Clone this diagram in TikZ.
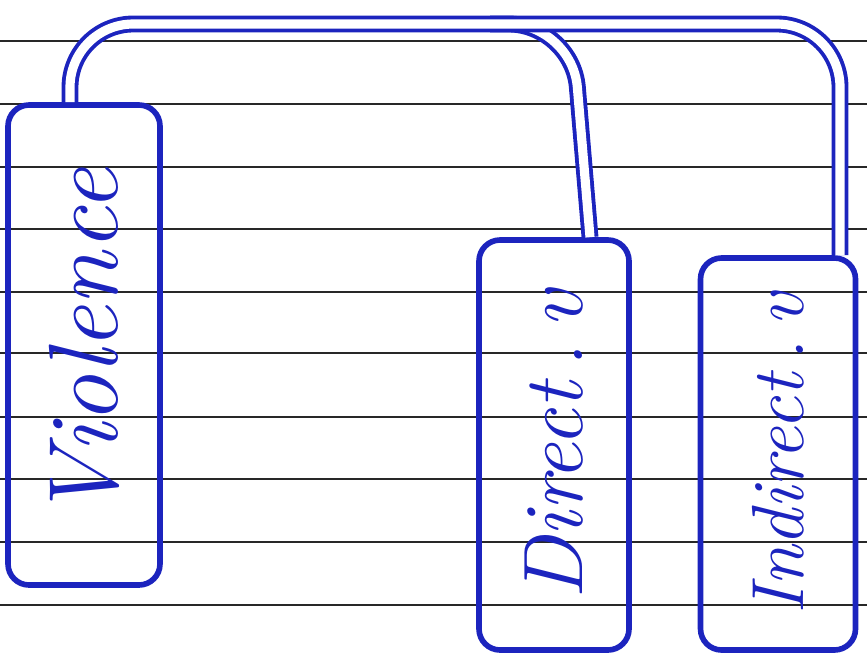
\documentclass[tikz,border=0pt]{standalone}
\usetikzlibrary{calc}
\definecolor{ink}{RGB}{28,36,190}
\definecolor{rule}{RGB}{40,40,40}
\begin{document}
\begin{tikzpicture}[>=stealth,
		box/.style={draw=ink, text=ink, line width=1.6pt, rounded corners=6pt, rotate=90, inner sep=0pt},
		pipe/.style={draw=ink, line width=1.1pt, double=white, double distance=2.6pt, rounded corners=18pt}]
	\useasboundingbox (0,0) rectangle (8.67,6.6);
	% ruled paper
	\foreach \y in {6.19,5.56,4.93,4.31,3.68,3.07,2.43,1.81,1.18,0.55}
		\draw[rule, line width=0.7pt] (0,\y) -- (8.67,\y);
	% boxes
	\node[box, minimum width=4.8cm, minimum height=1.52cm] (viol) at (0.84,3.15) {\fontsize{28}{30}\selectfont\itshape Violence};
	\node[box, minimum width=4.1cm, minimum height=1.5cm] (direct) at (5.54,2.15) {\fontsize{24}{26}\selectfont\itshape Direct\,.\,v};
	\node[box, minimum width=3.92cm, minimum height=1.55cm] (indirect) at (7.78,2.06) {\fontsize{21}{24}\selectfont\itshape Indirect\,.\,v};
	% connectors
	\coordinate (fork) at (5.72,6.36);
	\coordinate (split) at (4.9,6.36);
	\draw[pipe] ($(viol.east)+(-0.14,0)$) |- (fork) -- ($(direct.east)+(0.36,0)$);
	\draw[pipe] (split) -| ($(indirect.east)+(0.62,0)$);
\end{tikzpicture}
\end{document}
